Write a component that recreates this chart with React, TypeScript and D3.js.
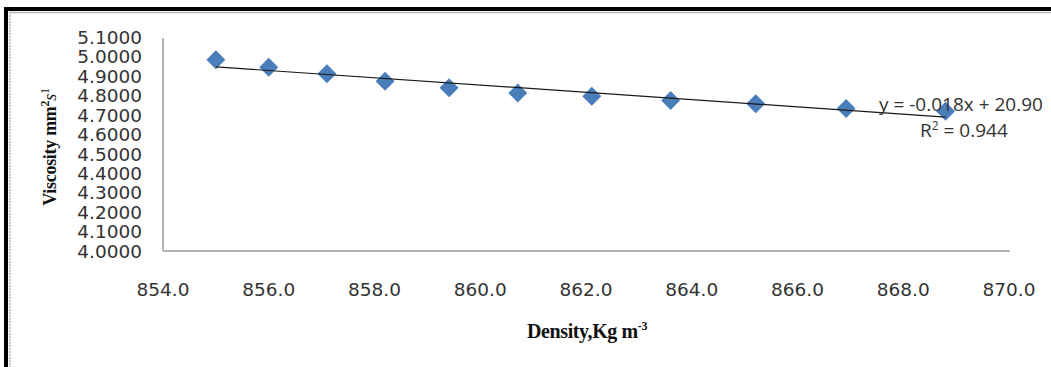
import React, { useEffect, useRef } from 'react';
import * as d3 from 'd3';

// density (Kg m-3) and viscosity (mm2 s-1)
const density = [855.0, 856.0, 857.1, 858.2, 859.41, 860.71, 862.11, 863.6, 865.21, 866.92, 868.8];
const viscosity = [4.983, 4.945, 4.911, 4.873, 4.839, 4.812, 4.795, 4.774, 4.757, 4.732, 4.718];
const xTicks = [854, 856, 858, 860, 862, 864, 866, 868, 870];
const yTicks = [4.0, 4.1, 4.2, 4.3, 4.4, 4.5, 4.6, 4.7, 4.8, 4.9, 5.0, 5.1];
const equationText = 'y = -0.018x + 20.90';
const r2Value = '0.944';

const App = () => {
  const svgRef = useRef<SVGSVGElement>(null);

  useEffect(() => {
    document.body.style.margin = '0';
    const svg = d3.select(svgRef.current);
    svg.selectAll('*').remove();

    const width = 1051;
    const height = 367;
    const tickFont = "'DejaVu Sans', sans-serif";
    const labelFont = "'Open Sans', sans-serif";

    const x = d3.scaleLinear().domain([854, 870]).range([163, 1009]);
    const y = d3.scaleLinear().domain([4.0, 5.1]).range([251, 37]);

    svg.append('rect').attr('width', width).attr('height', height).attr('fill', '#fff');

    // frame (only top / left visible)
    svg.append('line').attr('x1', 4).attr('x2', width).attr('y1', 9).attr('y2', 9)
      .attr('stroke', '#000').attr('stroke-width', 4);
    svg.append('line').attr('x1', 6).attr('x2', 6).attr('y1', 7).attr('y2', height)
      .attr('stroke', '#000').attr('stroke-width', 4);
    svg.append('line').attr('x1', 10).attr('x2', width).attr('y1', 12.5).attr('y2', 12.5)
      .attr('stroke', '#b8b8b8').attr('stroke-width', 1.5);
    svg.append('line').attr('x1', 10).attr('x2', 10).attr('y1', 12).attr('y2', height)
      .attr('stroke', '#b8b8b8').attr('stroke-width', 1.5).attr('stroke-dasharray', '2,1');

    // axes lines
    svg.append('line').attr('x1', x(854)).attr('x2', x(854)).attr('y1', 38).attr('y2', y(4))
      .attr('stroke', '#b4b4b4').attr('stroke-width', 2);
    svg.append('line').attr('x1', x(854)).attr('x2', x(870) + 1).attr('y1', y(4)).attr('y2', y(4))
      .attr('stroke', '#b4b4b4').attr('stroke-width', 2);

    // y tick labels
    svg.append('g').selectAll('text')
      .data(yTicks)
      .enter()
      .append('text')
      .attr('x', 142)
      .attr('y', d => y(d))
      .attr('dy', '0.37em')
      .attr('text-anchor', 'end')
      .attr('font-family', tickFont)
      .attr('font-size', 18.5)
      .attr('fill', '#333')
      .text(d => d.toFixed(4));

    // x tick labels
    svg.append('g').selectAll('text')
      .data(xTicks)
      .enter()
      .append('text')
      .attr('x', d => x(d))
      .attr('y', 296)
      .attr('text-anchor', 'middle')
      .attr('font-family', tickFont)
      .attr('font-size', 18.5)
      .attr('fill', '#333')
      .text(d => d.toFixed(1));

    // linear trend line (least squares)
    const mx = d3.mean(density)!;
    const my = d3.mean(viscosity)!;
    const sxy = d3.sum(density, (d, i) => (d - mx) * (viscosity[i] - my));
    const sxx = d3.sum(density, d => (d - mx) ** 2);
    const slope = sxy / sxx;
    const intercept = my - slope * mx;
    const x0 = d3.min(density)!;
    const x1 = d3.max(density)!;

    const points = density.map((d, i) => ({ d, v: viscosity[i] }));

    svg.append('g').selectAll('path')
      .data(points)
      .enter()
      .append('path')
      .attr('d', d3.symbol(d3.symbolSquare, 180)())
      .attr('transform', p => `translate(${x(p.d)},${y(p.v)}) rotate(45)`)
      .attr('fill', '#4a7ebb');

    svg.append('line')
      .attr('x1', x(x0)).attr('y1', y(slope * x0 + intercept))
      .attr('x2', x(x1)).attr('y2', y(slope * x1 + intercept))
      .attr('stroke', '#1a1a1a')
      .attr('stroke-width', 1.2);

    // equation labels
    svg.append('text')
      .attr('x', 879).attr('y', 111)
      .attr('font-family', labelFont).attr('font-size', 19).attr('fill', '#333')
      .text(equationText);
    const r2 = svg.append('text')
      .attr('x', 920).attr('y', 137)
      .attr('font-family', labelFont).attr('font-size', 19).attr('fill', '#333');
    r2.append('tspan').text('R');
    r2.append('tspan').attr('dy', -7).attr('font-size', 12).text('2');
    r2.append('tspan').attr('dy', 7).text(` = ${r2Value}`);

    // axis titles
    const yTitle = svg.append('text')
      .attr('transform', 'translate(56,147) rotate(-90)')
      .attr('text-anchor', 'middle')
      .attr('font-family', "'Liberation Serif', serif")
      .attr('font-weight', 'bold')
      .attr('font-size', 18)
      .attr('letter-spacing', -0.3)
      .attr('fill', '#111');
    yTitle.append('tspan').text('Viscosity mm');
    yTitle.append('tspan').attr('dy', -7).attr('font-size', 12).text('2');
    yTitle.append('tspan').attr('dy', 7).attr('font-style', 'italic').attr('font-weight', 'normal').text('s');
    yTitle.append('tspan').attr('dy', -7).attr('font-size', 12).attr('font-weight', 'normal').text('1');

    const xTitle = svg.append('text')
      .attr('x', 587).attr('y', 338)
      .attr('text-anchor', 'middle')
      .attr('font-family', "'Liberation Serif', serif")
      .attr('font-weight', 'bold')
      .attr('font-size', 20)
      .attr('letter-spacing', -0.4)
      .attr('fill', '#111');
    xTitle.append('tspan').text('Density,Kg m');
    xTitle.append('tspan').attr('dy', -8).attr('font-size', 12).text('-3');
  }, []);

  return <svg ref={svgRef} width={1051} height={367} style={{ display: 'block' }} />;
};

export default App;
